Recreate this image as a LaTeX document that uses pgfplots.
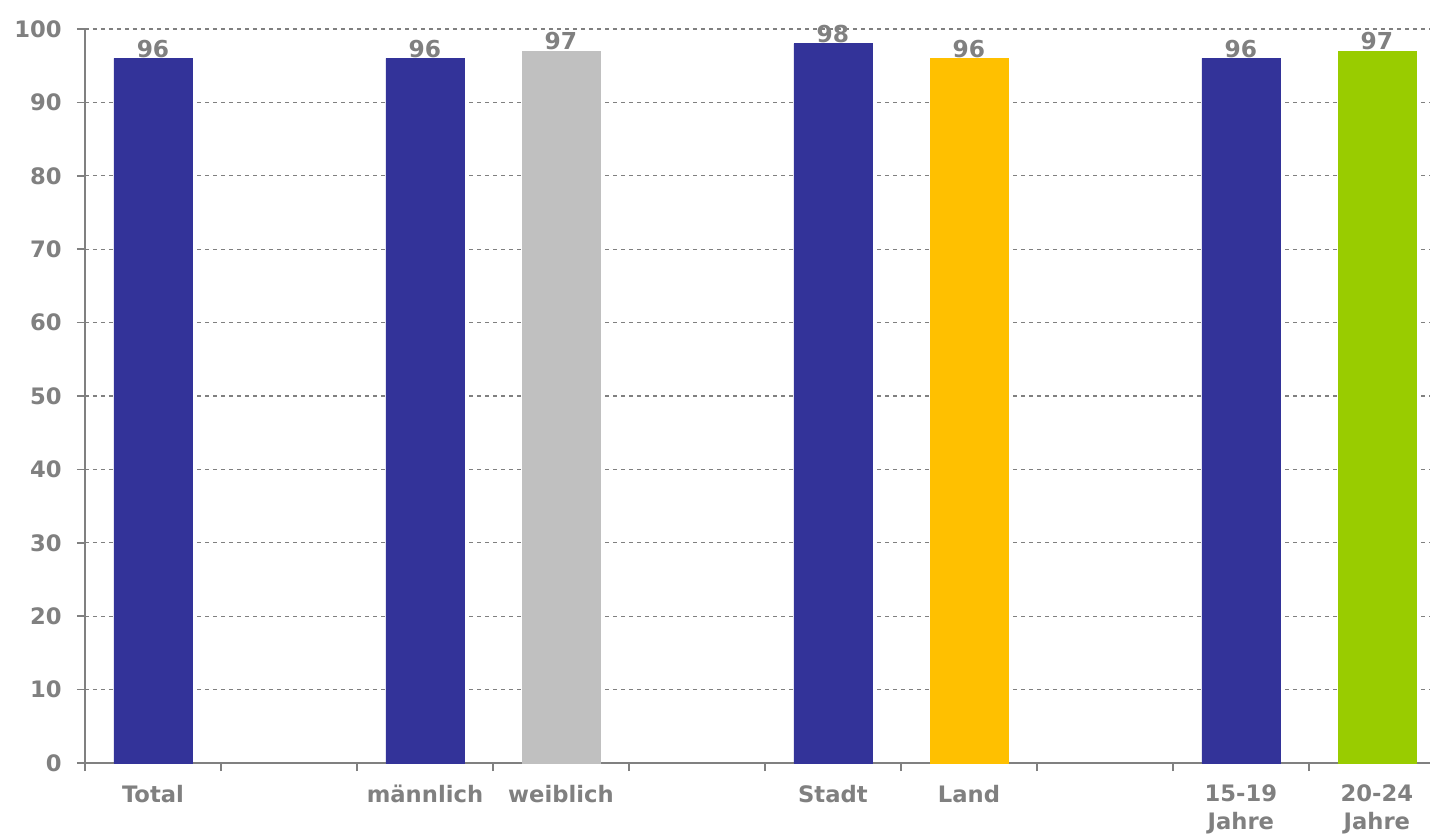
\documentclass[border=0pt]{standalone}
\usepackage{pgfplots}
\pgfplotsset{compat=1.18}
\usepackage{fontspec}
\setmainfont{DejaVu Sans}
\definecolor{txtgrey}{HTML}{808080}
\definecolor{bblue}{HTML}{333399}
\definecolor{bgrey}{HTML}{C0C0C0}
\definecolor{byellow}{HTML}{FFC000}
\definecolor{bgreen}{HTML}{99CC00}
\begin{document}
\begin{tikzpicture}[x=1pt,y=1pt]
\useasboundingbox (-63.75,-54) rectangle (1008.75,572.25);
\begin{axis}[
  at={(0,0)}, anchor=south west,
  scale only axis,
  width=1008.75pt, height=550.5pt,
  xmin=-0.5, xmax=9.39,
  ymin=0, ymax=100,
  ytick={0,10,...,100},
  xtick={0,2,3,5,6,8,9},
  xticklabels={Total,männlich,weiblich,Stadt,Land,{15-19\\Jahre},{20-24\\Jahre}},
  minor xtick={-0.5,0.5,1.5,2.5,3.5,4.5,5.5,6.5,7.5,8.5},
  axis lines*=left,
  axis line style={txtgrey, line width=1.5pt},
  tick align=outside,
  x tick style={draw=none},
  minor x tick style={draw=txtgrey, line width=1.2pt},
  minor tick length=6pt,
  y tick style={draw=txtgrey, line width=1.2pt},
  major tick length=6pt,
  ymajorgrids,
  major grid style={dashed, txtgrey, line width=0.8pt},
  /pgf/number format/assume math mode=true,
  ticklabel style={font=\fontsize{17}{20.5}\selectfont\bfseries, text=txtgrey},
  xticklabel style={align=center, yshift=-7pt},
  yticklabel style={xshift=-8pt},
  ybar, bar width=58.5pt,
  nodes near coords,
  every node near coord/.append style={font=\fontsize{17.5}{20}\selectfont\bfseries, text=txtgrey, inner sep=0pt, yshift=0.5pt},
  clip=false,
]
\addplot[fill=bblue, draw=bblue, bar shift=0pt] coordinates {(0,96) (2,96) (5,98) (8,96)};
\addplot[fill=bgrey, draw=bgrey, bar shift=0pt] coordinates {(3,97)};
\addplot[fill=byellow, draw=byellow, bar shift=0pt] coordinates {(6,96)};
\addplot[fill=bgreen, draw=bgreen, bar shift=0pt] coordinates {(9,97)};
\end{axis}
\end{tikzpicture}
\end{document}
